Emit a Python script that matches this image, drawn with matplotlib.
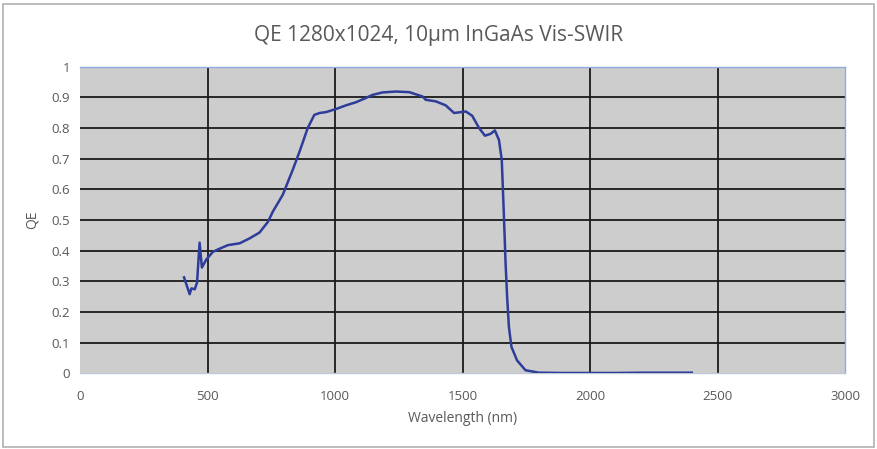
import matplotlib

matplotlib.use("Agg")
import matplotlib.pyplot as plt
from matplotlib.patches import Rectangle

# wavelength (nm) and QE
wavelength = [408, 430, 437, 450, 459, 469, 478, 495, 521, 541, 580, 626, 665,
              704, 737, 756, 795, 834, 861, 893, 919, 940, 965, 1004, 1043, 1082,
              1121, 1147, 1186, 1239, 1291, 1343, 1356, 1395, 1434, 1467, 1486,
              1513, 1538, 1565, 1588, 1610, 1627, 1643, 1654, 1662, 1669, 1675,
              1682, 1692, 1714, 1747, 1799, 1900, 2000, 2100, 2200, 2300, 2399]
qe = [0.313, 0.258, 0.277, 0.274, 0.296, 0.426, 0.345, 0.371, 0.396, 0.404,
      0.418, 0.424, 0.440, 0.459, 0.494, 0.527, 0.582, 0.663, 0.723, 0.800,
      0.843, 0.849, 0.852, 0.862, 0.874, 0.884, 0.898, 0.908, 0.916, 0.919, 0.917,
      0.903, 0.892, 0.887, 0.874, 0.849, 0.851, 0.854, 0.840, 0.800, 0.775,
      0.781, 0.792, 0.761, 0.696, 0.522, 0.358, 0.249, 0.151, 0.086, 0.042,
      0.010, 0.002, 0.001, 0.001, 0.001, 0.002, 0.002, 0.002]

x_ticks = [0, 500, 1000, 1500, 2000, 2500, 3000]
y_ticks = [0, 0.1, 0.2, 0.3, 0.4, 0.5, 0.6, 0.7, 0.8, 0.9, 1]
y_labels = ["0", "0.1", "0.2", "0.3", "0.4", "0.5", "0.6", "0.7", "0.8", "0.9", "1"]

text_color = "#595959"
plt.rcParams["font.family"] = ["Open Sans", "DejaVu Sans"]

fig = plt.figure(figsize=(8.77, 4.49), dpi=100)
fig.patches.append(Rectangle((0.003, 0.005), 0.994, 0.985, transform=fig.transFigure,
                             fill=False, edgecolor="#b0b0b0", linewidth=1.2))
ax = fig.add_axes([80 / 877, 1 - 373.3 / 449, 765 / 877, 306.6 / 449])
ax.set_facecolor("#cdcdcd")

for xv in x_ticks[1:-1]:
    ax.axvline(xv, color="#1a1a1a", linewidth=1.3, zorder=1)
for yv in y_ticks[1:-1]:
    ax.axhline(yv, color="#1a1a1a", linewidth=1.3, zorder=1)

ax.plot(wavelength, qe, color="#2e3c9a", linewidth=1.8, zorder=3)

ax.set_xlim(0, 3000)
ax.set_ylim(0, 1)
ax.set_xticks(x_ticks)
ax.set_yticks(y_ticks)
ax.set_yticklabels(y_labels)
ax.tick_params(length=0, colors=text_color, labelsize=9.5)
ax.tick_params(axis="x", pad=12)
ax.tick_params(axis="y", pad=7)

for side in ["top", "right", "bottom"]:
    ax.spines[side].set_color("#8faadc")
    ax.spines[side].set_linewidth(1.0)
ax.spines["bottom"].set_color("#c0c8d8")
ax.spines["left"].set_visible(False)

ax.set_xlabel("Wavelength (nm)", color=text_color, fontsize=10, labelpad=6)
ax.set_ylabel("QE", color=text_color, fontsize=10, labelpad=9)
fig.text(0.5, 1 - 35 / 449, "QE 1280x1024, 10µm InGaAs Vis-SWIR", ha="center",
         va="center", color=text_color, fontsize=15)

fig.savefig("out.png", dpi=100)
